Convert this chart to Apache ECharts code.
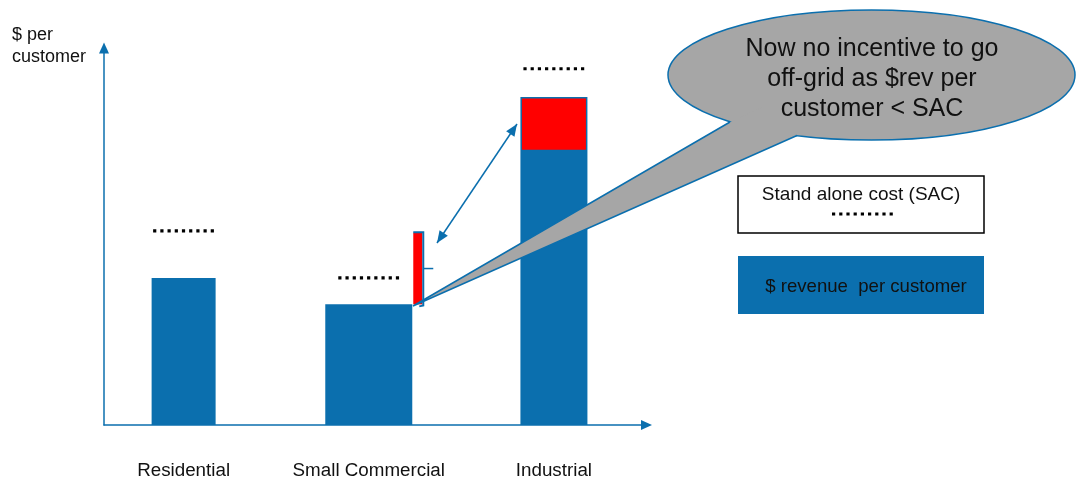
<!DOCTYPE html>
<html>
<head>
<meta charset="utf-8">
<script src="https://cdn.jsdelivr.net/npm/echarts@6/dist/echarts.min.js"></script>
<style>
  html, body { margin: 0; padding: 0; background: #fff; }
  #chart { width: 1079px; height: 482px; }
</style>
</head>
<body>
<div id="chart"></div>
<script>
// data, in arbitrary "$ per customer" units (axis runs 0..100)
const categories = ['Residential', 'Small Commercial', 'Industrial'];
const revenue = [39, 32, 73];     // $ revenue per customer (blue)
const rebalance = [0, 19, 14];    // revenue moved onto the class (red)
const sac = [51.5, 39, 94.5];     // stand alone cost (dotted line)

// styles
const BLUE = '#0B6FAE';
const RED = '#FF0000';
const GREY = '#A6A6A6';
const FONT = 'Liberation Sans, Arial, sans-serif';
const barWidthPx = [64, 87, 67];
const redPlacement = ['none', 'side', 'top'];

const chart = echarts.init(document.getElementById('chart'));

function renderBar(params, api) {
  const i = api.value(0);
  const w = barWidthPx[i];
  const base = api.coord([i, 0]);
  const top = api.coord([i, api.value(1)]);
  const x = base[0] - w / 2;
  const extra = api.value(2);
  const children = [];
  if (extra > 0 && redPlacement[i] === 'top') {
    const up = api.coord([i, api.value(1) + extra]);
    children.push({ type: 'rect', shape: { x: x, y: up[1], width: w, height: base[1] - up[1] }, style: { fill: BLUE } });
    children.push({ type: 'rect', shape: { x: x + 1.5, y: up[1] + 1.5, width: w - 3, height: top[1] - up[1] - 1.5 }, style: { fill: RED } });
  } else {
    children.push({ type: 'rect', shape: { x: x, y: top[1], width: w, height: base[1] - top[1] }, style: { fill: BLUE } });
    if (extra > 0) {
      const up = api.coord([i, api.value(1) + extra]);
      const sx = x + w + 1, sw = 9;
      children.push({ type: 'rect', shape: { x: sx, y: up[1], width: sw, height: top[1] - up[1] }, style: { fill: RED } });
      const xr = sx + sw + 1, mid = (up[1] + top[1]) / 2;
      children.push({
        type: 'polyline',
        shape: { points: [[sx, up[1] - 0.5], [xr, up[1] - 0.5], [xr, top[1] + 1], [xr - 4, top[1] + 2]] },
        style: { stroke: BLUE, lineWidth: 2, fill: null }
      });
      children.push({
        type: 'line',
        shape: { x1: xr, y1: mid, x2: xr + 10, y2: mid },
        style: { stroke: BLUE, lineWidth: 1.5 }
      });
    }
  }
  return { type: 'group', children: children };
}

function renderSac(params, api) {
  const i = api.value(0);
  const p = api.coord([i, api.value(1)]);
  return {
    type: 'line',
    shape: { x1: p[0] - 30.5, y1: p[1], x2: p[0] + 30.5, y2: p[1] },
    style: { stroke: '#000', lineWidth: 3.2, lineDash: [3.2, 4] }
  };
}

function arrowHead(tip, from, len, half) {
  const dx = tip[0] - from[0], dy = tip[1] - from[1];
  const L = Math.hypot(dx, dy), ux = dx / L, uy = dy / L;
  const bx = tip[0] - ux * len, by = tip[1] - uy * len;
  return [tip, [bx - uy * half, by + ux * half], [bx + uy * half, by - ux * half]];
}

const arrA = [437, 243], arrB = [517, 124];

const axisLineStyle = {
  show: true, onZero: false,
  symbol: ['none', 'triangle'], symbolSize: [10, 11],
  lineStyle: { color: BLUE, width: 1.5 }
};

const option = {
  backgroundColor: '#fff',
  animation: false,
  grid: { left: 104, right: 432.5, top: 48, bottom: 57, containLabel: false, outerBoundsMode: 'none' },
  xAxis: {
    type: 'value',
    min: -0.43,
    max: 2.5,
    splitLine: { show: false },
    axisTick: { show: false },
    axisLine: axisLineStyle,
    axisLabel: {
      customValues: [0, 1, 2],
      formatter: v => categories[v] || '',
      margin: 36,
      fontSize: 18.8,
      fontFamily: FONT,
      color: '#111'
    }
  },
  yAxis: {
    type: 'value',
    min: 0,
    max: 100,
    splitLine: { show: false },
    axisTick: { show: false },
    axisLabel: { show: false },
    axisLine: axisLineStyle
  },
  series: [
    {
      type: 'custom',
      renderItem: renderBar,
      data: categories.map((c, i) => [i, revenue[i], rebalance[i]]),
      z: 2
    },
    {
      type: 'custom',
      renderItem: renderSac,
      data: categories.map((c, i) => [i, sac[i]]),
      z: 3
    }
  ],
  graphic: [
    {
      type: 'text', left: 12, top: 24, z: 20,
      style: { text: '$ per\ncustomer', fontSize: 18, lineHeight: 22, fontFamily: FONT, fill: '#111' }
    },
    // double arrow
    {
      type: 'line', z: 20,
      shape: { x1: arrA[0], y1: arrA[1], x2: arrB[0], y2: arrB[1] },
      style: { stroke: BLUE, lineWidth: 1.5 }
    },
    { type: 'polygon', z: 20, shape: { points: arrowHead(arrB, arrA, 12, 5) }, style: { fill: BLUE } },
    { type: 'polygon', z: 20, shape: { points: arrowHead(arrA, arrB, 12, 5) }, style: { fill: BLUE } },
    // speech bubble
    {
      type: 'ellipse', z: 20,
      shape: { cx: 871.5, cy: 75, rx: 203.5, ry: 65 },
      style: { fill: GREY, stroke: BLUE, lineWidth: 1.5 }
    },
    {
      type: 'polygon', z: 21,
      shape: { points: [[413, 306], [730, 122], [765, 106], [797, 135.5]] },
      style: { fill: GREY }
    },
    {
      type: 'polyline', z: 22,
      shape: { points: [[730, 122], [413, 306], [797, 135.5]] },
      style: { stroke: BLUE, lineWidth: 1.5, fill: null }
    },
    {
      type: 'text', x: 872, y: 79, z: 23,
      style: {
        text: 'Now no incentive to go\noff-grid as $rev per\ncustomer < SAC',
        fontSize: 25, lineHeight: 30, fontFamily: FONT, fill: '#111',
        align: 'center', verticalAlign: 'middle'
      }
    },
    // legend boxes
    {
      type: 'rect', z: 20,
      shape: { x: 738, y: 176, width: 246, height: 57 },
      style: { fill: '#fff', stroke: '#000', lineWidth: 1.5 }
    },
    {
      type: 'text', x: 861, y: 195, z: 21,
      style: { text: 'Stand alone cost (SAC)', fontSize: 19, fontFamily: FONT, fill: '#111', align: 'center', verticalAlign: 'middle' }
    },
    {
      type: 'line', z: 21,
      shape: { x1: 832, y1: 214, x2: 893, y2: 214 },
      style: { stroke: '#000', lineWidth: 3.2, lineDash: [3.2, 4] }
    },
    {
      type: 'rect', z: 20,
      shape: { x: 738, y: 256, width: 246, height: 58 },
      style: { fill: BLUE }
    },
    {
      type: 'text', x: 866, y: 287, z: 21,
      style: { text: '$ revenue  per customer', fontSize: 18.6, fontFamily: FONT, fill: '#111', align: 'center', verticalAlign: 'middle' }
    }
  ]
};

chart.setOption(option);
</script>
</body>
</html>
